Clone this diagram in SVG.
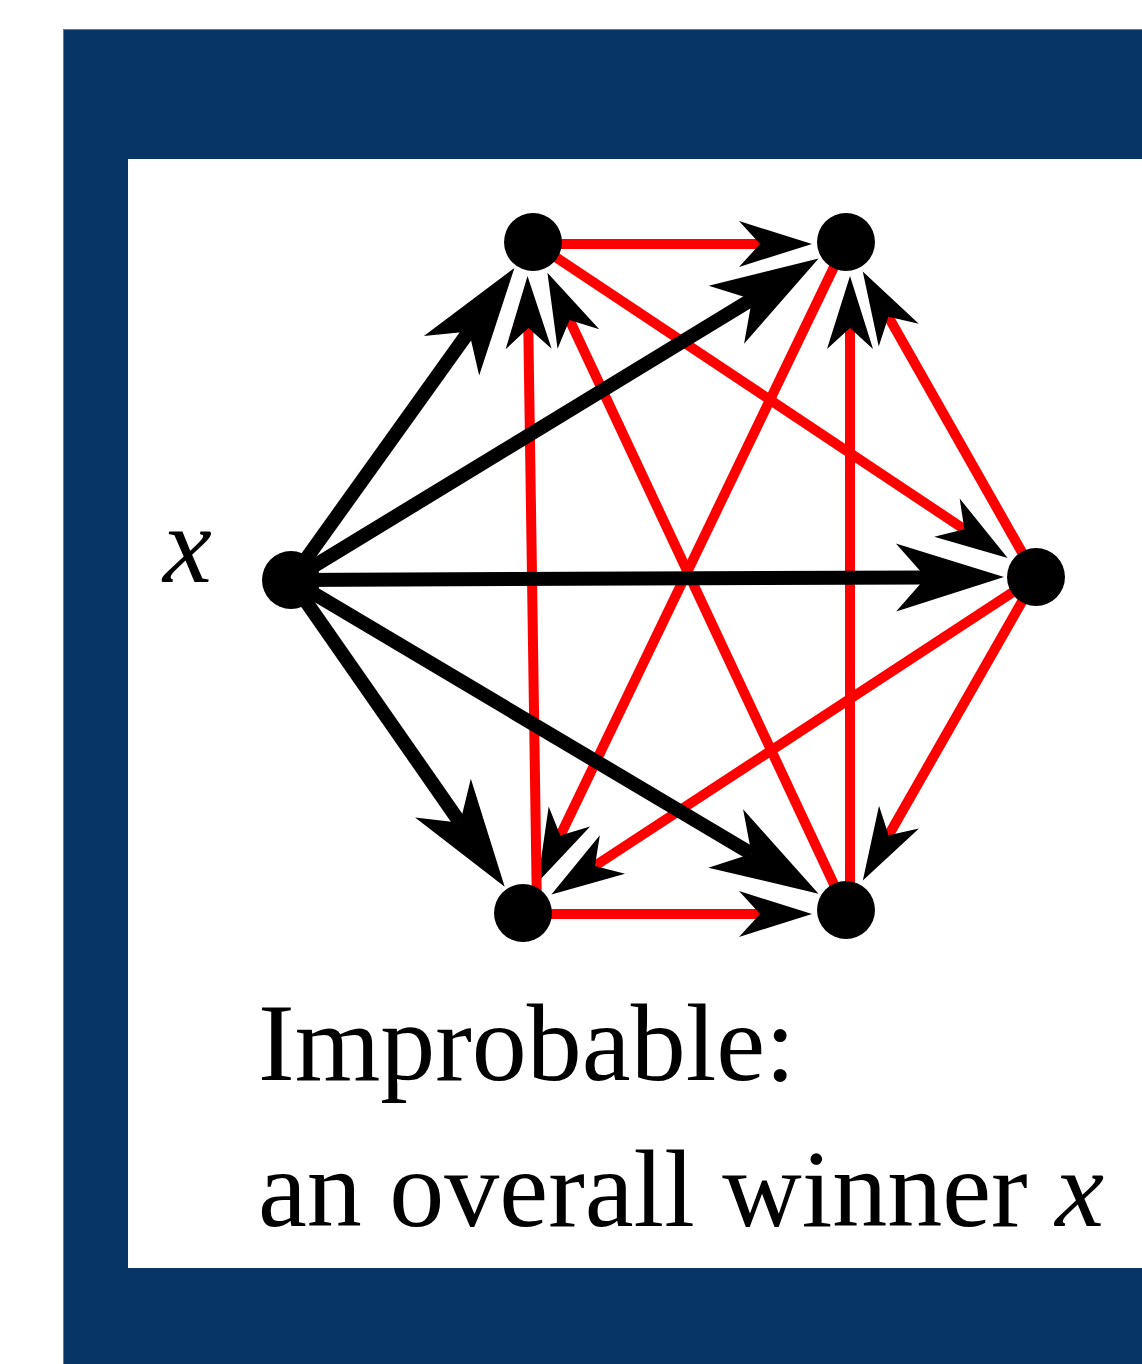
<svg xmlns="http://www.w3.org/2000/svg" width="1142" height="1364" viewBox="0 0 1142 1364">
  <style>
    .blk { stroke: #000000; stroke-width: 14; fill: none; marker-end: url(#ab); }
    .red { stroke: #ff0000; stroke-width: 10; fill: none; marker-end: url(#ar); }
    .node { fill: #000000; }
    .txt { font-family: "Liberation Serif", "Times New Roman", serif; font-size: 110px; fill: #000000; }
    .it { font-style: italic; }
  </style>
  <defs>
    <marker id="ab" markerUnits="userSpaceOnUse" orient="auto" refX="0" refY="0" markerWidth="1" markerHeight="1" overflow="visible">
      <path d="M0,0 L-30,-34 L78,0 L-30,34 Z" fill="#000000"/>
    </marker>
    <marker id="ar" markerUnits="userSpaceOnUse" orient="auto" refX="0" refY="0" markerWidth="1" markerHeight="1" overflow="visible">
      <path d="M0,0 L-21,-23 L52,0 L-21,23 Z" fill="#000000"/>
    </marker>
  </defs>

  <rect x="63" y="29" width="1079" height="1335" fill="#063566"/>
  <line x1="63.5" y1="29" x2="63.5" y2="1364" stroke="#4d7fb5" stroke-width="1"/>
  <line x1="63" y1="29.5" x2="1142" y2="29.5" stroke="#4d7fb5" stroke-width="1"/>
  <rect x="128" y="159" width="1014" height="1109" fill="#ffffff"/>

  <g id="connectors">
    <g id="red-edges">
      <line class="red" x1="533" y1="244" x2="760" y2="244"/>
      <line class="red" x1="533" y1="242" x2="964.4" y2="529.3"/>
      <line class="red" x1="846" y1="242" x2="560.3" y2="835.5"/>
      <line class="red" x1="850" y1="910" x2="850" y2="328"/>
      <line class="red" x1="1036" y1="577" x2="888.4" y2="316.8"/>
      <line class="red" x1="537" y1="913" x2="528.3" y2="328"/>
      <line class="red" x1="846" y1="910" x2="569.5" y2="319.9"/>
      <line class="red" x1="1036" y1="577" x2="594.9" y2="865.9"/>
      <line class="red" x1="1036" y1="577" x2="888.6" y2="835.3"/>
      <line class="red" x1="523" y1="914" x2="760" y2="914"/>
    </g>
    <g id="black-edges">
      <line class="blk" x1="291" y1="580" x2="469" y2="331.4"/>
      <line class="blk" x1="291" y1="580" x2="752" y2="299.2"/>
      <line class="blk" x1="291" y1="580" x2="926" y2="577.4"/>
      <line class="blk" x1="291" y1="580" x2="460.1" y2="822.7"/>
      <line class="blk" x1="291" y1="580" x2="751.5" y2="853.8"/>
    </g>
  </g>

  <g id="node-x"><circle class="node" cx="291" cy="580" r="29"/></g>
  <g id="node-tl"><circle class="node" cx="533" cy="242" r="29"/></g>
  <g id="node-tr"><circle class="node" cx="846" cy="242" r="29"/></g>
  <g id="node-r"><circle class="node" cx="1036" cy="577" r="29"/></g>
  <g id="node-bl"><circle class="node" cx="523" cy="913" r="29"/></g>
  <g id="node-br"><circle class="node" cx="846" cy="910" r="29"/></g>

  <g id="label-x"><text class="txt it" x="163" y="582">x</text></g>
  <g id="caption">
    <text class="txt" x="258" y="1080">Improbable:</text>
    <text class="txt" x="258" y="1226">an overall winner <tspan class="it">x</tspan></text>
  </g>
</svg>
